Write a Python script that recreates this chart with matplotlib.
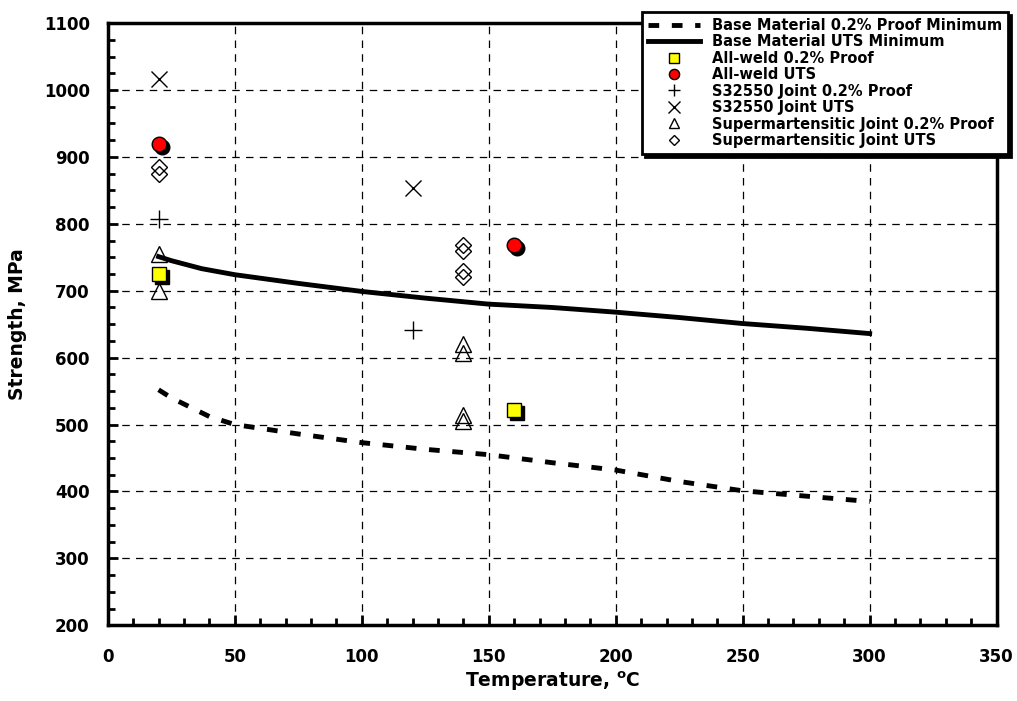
import numpy as np
import matplotlib.pyplot as plt
import matplotlib.transforms as mtransforms
from matplotlib.ticker import MultipleLocator

# base material minimum curves
uts_min_t = [20, 25, 37, 50, 75, 100, 125, 150, 175, 200, 225, 250, 275, 300]
uts_min_s = [751, 745, 733, 724, 711, 699, 689, 680, 675, 668, 660, 651, 644, 636]
proof_min_t = [20, 25, 40, 50, 75, 100, 125, 150, 175, 200, 225, 250, 275, 300]
proof_min_s = [552, 540, 512, 500, 486, 473, 463, 455, 443, 432, 415, 401, 393, 385]

# weld test results
aw_proof_t = [20, 160]
aw_proof_s = [725, 522]
aw_uts_t = [20, 160]
aw_uts_s = [919, 768]
s32_proof_t = [20, 120]
s32_proof_s = [808, 641]
s32_uts_t = [20, 120]
s32_uts_s = [1017, 853]
sm_proof_t = [20, 20, 140, 140, 140, 140]
sm_proof_s = [755, 700, 620, 607, 515, 505]
sm_uts_t = [20, 20, 140, 140, 140, 140]
sm_uts_s = [885, 875, 768, 760, 730, 720]

fig = plt.figure(figsize=(10.17, 7.01), dpi=100)
ax = fig.add_axes([0.106, 0.108, 0.874, 0.859])

shadow = mtransforms.offset_copy(ax.transData, fig=fig, x=3, y=-3, units='dots')

ax.plot(proof_min_t, proof_min_s, color='black', lw=3.5, ls=(0, (2.2, 2.6)),
        label='Base Material 0.2% Proof Minimum', zorder=3)
ax.plot(uts_min_t, uts_min_s, color='black', lw=3.5,
        label='Base Material UTS Minimum', zorder=3)

ax.plot(aw_proof_t, aw_proof_s, 's', ms=10, color='black', transform=shadow, zorder=4)
ax.plot(aw_proof_t, aw_proof_s, 's', ms=10, mfc='yellow', mec='black', mew=1,
        label='All-weld 0.2% Proof', zorder=5)
ax.plot(aw_uts_t, aw_uts_s, 'o', ms=10.5, color='black', transform=shadow, zorder=4)
ax.plot(aw_uts_t, aw_uts_s, 'o', ms=10.5, mfc='red', mec='black', mew=1,
        label='All-weld UTS', zorder=5)
ax.plot(s32_proof_t, s32_proof_s, '+', ms=13, color='black', mew=1,
        label='S32550 Joint 0.2% Proof', zorder=5)
ax.plot(s32_uts_t, s32_uts_s, 'x', ms=12, color='black', mew=1,
        label='S32550 Joint UTS', zorder=5)
ax.plot(sm_proof_t, sm_proof_s, '^', ms=11, mfc='none', mec='black', mew=1,
        label='Supermartensitic Joint 0.2% Proof', zorder=5)
ax.plot(sm_uts_t, sm_uts_s, 'D', ms=8, mfc='none', mec='black', mew=1,
        label='Supermartensitic Joint UTS', zorder=5)

ax.set_xlim(0, 350)
ax.set_ylim(200, 1100)
ax.xaxis.set_major_locator(MultipleLocator(50))
ax.xaxis.set_minor_locator(MultipleLocator(10))
ax.yaxis.set_major_locator(MultipleLocator(100))
ax.yaxis.set_minor_locator(MultipleLocator(25))
ax.tick_params(which='both', direction='in', width=2, color='black')
ax.tick_params(which='major', length=7, labelsize=12)
ax.tick_params(axis='x', which='major', pad=16)
ax.tick_params(axis='y', which='major', pad=13)
ax.tick_params(which='minor', length=5)
for lbl in ax.get_xticklabels() + ax.get_yticklabels():
    lbl.set_fontweight('bold')
for sp in ax.spines.values():
    sp.set_linewidth(2.5)

ax.grid(True, which='major', color='black', ls=(0, (6, 5)), lw=0.9)

ax.set_xlabel('Temperature, $^{\\mathbf{o}}$C', fontsize=13.5, fontweight='bold', labelpad=3)
ax.set_ylabel('Strength, MPa', fontsize=13.5, fontweight='bold', labelpad=12)

leg = ax.legend(loc='upper right', bbox_to_anchor=(0.991, 0.983),
                bbox_transform=fig.transFigure, prop={'weight': 'bold', 'size': 10.5},
                frameon=True, fancybox=False, shadow={'color': 'black', 'alpha': 1},
                labelspacing=0.1, handlelength=3.6, borderpad=0.4, handletextpad=0.8,
                borderaxespad=0, markerscale=0.7)
leg.get_frame().set_edgecolor('black')
leg.get_frame().set_linewidth(2)
leg.set_zorder(10)

fig.savefig('out.png', dpi=100)
